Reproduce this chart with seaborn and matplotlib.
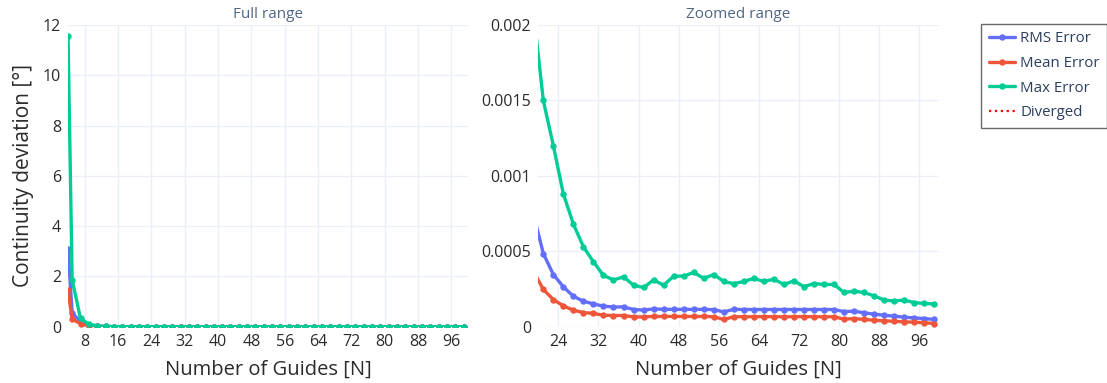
import matplotlib
matplotlib.use("Agg")
import matplotlib.pyplot as plt
from matplotlib.lines import Line2D
import numpy as np
import pandas as pd
import seaborn as sns

# ---------------- data ----------------
guides = [4, 5, 7, 9, 11, 13, 15, 17, 19,
          21, 23, 25, 27, 29, 31, 33, 35, 37, 39,
          41, 43, 45, 47, 49, 51, 53, 55, 57, 59,
          61, 63, 65, 67, 69, 71, 73, 75, 77, 79,
          81, 83, 85, 87, 89, 91, 93, 95, 97, 99]

rms_error = [3.08, 0.55, 0.2, 0.07, 0.025, 0.008, 0.003, 0.0012, 0.00075,
             0.000485, 0.000346, 0.000264, 0.000202, 0.000169, 0.000151, 0.000136, 0.000131, 0.000131, 0.000114,
             0.00011, 0.000118, 0.000115, 0.000115, 0.000115, 0.000115, 0.000115, 0.000113, 0.000098, 0.000115,
             0.000114, 0.000114, 0.000114, 0.000114, 0.000114, 0.000114, 0.000114, 0.000114, 0.000114, 0.000114,
             0.0001, 0.000103, 0.000092, 0.000083, 0.000076, 0.00007, 0.000063, 0.000058, 0.000054, 0.000048]

mean_error = [1.45, 0.3, 0.12, 0.04, 0.012, 0.004, 0.0015, 0.0006, 0.00037,
              0.000247, 0.00018, 0.000138, 0.000109, 0.000094, 0.000088, 0.000076, 0.000074, 0.000074, 0.000065,
              0.000065, 0.000068, 0.000068, 0.000068, 0.000068, 0.000068, 0.000068, 0.000066, 0.000048, 0.000066,
              0.000066, 0.000066, 0.000067, 0.000066, 0.000066, 0.000066, 0.000067, 0.000066, 0.000066, 0.000066,
              0.00005, 0.000054, 0.000048, 0.000043, 0.000039, 0.000036, 0.000032, 0.00003, 0.000026, 0.000021]

max_error = [11.58, 1.86, 0.33, 0.10, 0.03, 0.012, 0.0055, 0.0031, 0.0021,
             0.0015, 0.0012, 0.00088, 0.00068, 0.00053, 0.00043, 0.00034, 0.00031, 0.00033, 0.000275,
             0.00026, 0.00031, 0.000275, 0.000335, 0.000335, 0.00036, 0.00032, 0.000346, 0.0003, 0.000285,
             0.0003, 0.00032, 0.0003, 0.000315, 0.00028, 0.000304, 0.000265, 0.000286, 0.00028, 0.00028,
             0.000227, 0.000235, 0.000227, 0.000204, 0.000176, 0.000171, 0.000176, 0.00016, 0.000154, 0.00015]

series_names = ["RMS Error", "Mean Error", "Max Error"]
series_colors = ["#636EFA", "#EF553B", "#00CC96"]
diverged_label = "Diverged"

panel_titles = ["Full range", "Zoomed range"]
x_label = "Number of Guides [N]"
y_label = "Continuity deviation [°]"

left_xticks = [8, 16, 24, 32, 40, 48, 56, 64, 72, 80, 88, 96]
left_yticks = [0, 2, 4, 6, 8, 10, 12]
right_xticks = [24, 32, 40, 48, 56, 64, 72, 80, 88, 96]
right_yticks = [0, 0.0005, 0.001, 0.0015, 0.002]
right_ytick_labels = ["0", "0.0005", "0.001", "0.0015", "0.002"]

# ---------------- styling ----------------
sns.set_theme(style="white")
plt.rcParams["font.family"] = ["Open Sans", "DejaVu Sans"]

df = pd.DataFrame({"N": guides, series_names[0]: rms_error,
                   series_names[1]: mean_error, series_names[2]: max_error})
long = df.melt(id_vars="N", var_name="series", value_name="value")

W, H = 1107, 383
fig = plt.figure(figsize=(W / 100, H / 100), dpi=100)
ax1 = fig.add_axes([68 / W, (H - 326.7) / H, 400 / W, 301.7 / H])
ax2 = fig.add_axes([538.3 / W, (H - 326.7) / H, 401 / W, 301.7 / H])

grid_c = "#EBF0F8"
text_c = "#2b2b2b"
title_c = "#506784"

for ax in (ax1, ax2):
    for name, col in zip(series_names, series_colors):
        sub = long[long["series"] == name]
        sns.lineplot(data=sub, x="N", y="value", ax=ax, color=col, marker="o",
                     markersize=4.6, markeredgewidth=0, linewidth=2.4,
                     legend=False, zorder=3)
    for s in ax.spines.values():
        s.set_visible(False)
    ax.grid(True, color=grid_c, linewidth=1.0, zorder=0)
    ax.set_axisbelow(True)
    ax.tick_params(length=0, labelsize=11.5, labelcolor=text_c, pad=5)
    ax.set_xlabel(x_label, fontsize=14.5, color=text_c, labelpad=7)
    ax.set_ylabel("")

ax1.set_xlim(4, 100)
ax1.set_ylim(0, 12)
ax1.set_xticks(left_xticks)
ax1.set_yticks(left_yticks)
ax1.set_ylabel(y_label, fontsize=15, color=text_c, labelpad=6)

ax2.set_xlim(20, 100)
ax2.set_ylim(0, 0.002)
ax2.set_xticks(right_xticks)
ax2.set_yticks(right_yticks)
ax2.set_yticklabels(right_ytick_labels)

fig.text(268 / W, 1 - 15 / H, panel_titles[0], ha="center", va="center",
         fontsize=11, color=title_c)
fig.text(738 / W, 1 - 15 / H, panel_titles[1], ha="center", va="center",
         fontsize=11, color=title_c)

handles = [Line2D([0], [0], color=c, linewidth=2.4, marker="o", markersize=4.6,
                  markeredgewidth=0) for c in series_colors]
handles.append(Line2D([0], [0], color="red", linewidth=1.6, linestyle=":"))
leg = fig.legend(handles, series_names + [diverged_label], loc="upper left",
                 bbox_to_anchor=(981 / W, 1 - 24 / H), frameon=True,
                 fancybox=False, fontsize=10.8, handlelength=1.75,
                 handletextpad=0.35, labelspacing=0.64, borderpad=0.5,
                 borderaxespad=0)
leg.get_frame().set_edgecolor("#444444")
leg.get_frame().set_linewidth(1.0)
for t in leg.get_texts():
    t.set_color("#2a3f5f")

fig.savefig("out.png", dpi=100, facecolor="white")
